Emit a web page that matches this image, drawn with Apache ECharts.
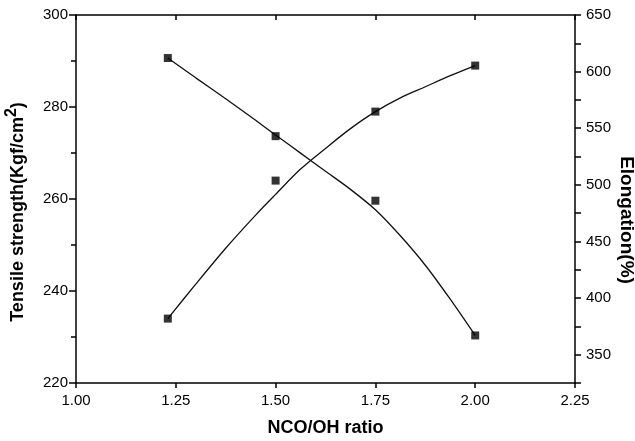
<!DOCTYPE html>
<html>
<head>
<meta charset="utf-8">
<script src="https://cdn.jsdelivr.net/npm/echarts@6/dist/echarts.min.js"></script>
<style>
html, body { margin: 0; padding: 0; background: #fff; }
#chart_01 { width: 635px; height: 441px; }
</style>
</head>
<body>
<div id="chart_01"></div>
<script>
// measured points
var ratios = [1.23, 1.5, 1.75, 2.0];
var tensile = [234, 264, 279, 289];
var elongation = [612, 543, 486, 367];

// fitted curves
var curveX = [1.23, 1.3, 1.375, 1.45, 1.5, 1.5625, 1.625, 1.6875, 1.75, 1.8125, 1.875, 1.9375, 2.0];
var tensileCurve = [234, 241.5, 249.3, 256.5, 261, 266.5, 271, 275.3, 279, 282, 284.4, 286.8, 289];
var elongCurve = [612, 594.5, 576, 557, 544, 528, 512, 496, 478, 455, 429, 399, 367];

var xTicks = ['1.00', '1.25', '1.50', '1.75', '2.00', '2.25'];

var chart1;
var font = 'Liberation Sans, Arial, sans-serif';

function pairs(xs, ys) {
    var out = [];
    for (var i = 0; i < xs.length; i++) {
        out.push([xs[i], ys[i]]);
    }
    return out;
}

function setChart1() {
    var dom = document.getElementById("chart_01");
    chart1 = echarts.init(dom);
    var axisLine = {
        show: true,
        lineStyle: { color: '#000', width: 1.5 }
    };
    var option = {
        animation: false,
        textStyle: { fontFamily: font },
        grid: {
            left: 76,
            right: 60,
            top: 15,
            bottom: 58,
            containLabel: false,
            outerBoundsMode: 'none'
        },
        xAxis: [
            {
                type: 'value',
                position: 'bottom',
                min: 1,
                max: 2.25,
                interval: 0.25,
                name: 'NCO/OH ratio',
                nameLocation: 'middle',
                nameGap: 36,
                nameMoveOverlap: false,
                nameTextStyle: { fontSize: 18, fontWeight: 'bold', color: '#000', fontFamily: font },
                axisLine: axisLine,
                axisTick: { show: true, inside: false, length: 5, lineStyle: { color: '#000', width: 1.5 } },
                axisLabel: {
                    margin: 10,
                    fontSize: 15,
                    color: '#000',
                    formatter: function (v) {
                        return xTicks[Math.round((v - 1) / 0.25)];
                    }
                },
                splitLine: { show: false }
            },
            {
                type: 'value',
                position: 'top',
                min: 1,
                max: 2.25,
                interval: 0.25,
                axisLine: axisLine,
                axisTick: { show: true, inside: true, length: 5, lineStyle: { color: '#000', width: 1.5 } },
                axisLabel: { show: false },
                splitLine: { show: false }
            }
        ],
        yAxis: [
            {
                type: 'value',
                position: 'left',
                min: 220,
                max: 300,
                interval: 20,
                name: 'Tensile strength(Kgf/cm{sup|2})',
                nameLocation: 'middle',
                nameRotate: 90,
                nameGap: 44,
                nameMoveOverlap: false,
                nameTextStyle: {
                    fontSize: 18,
                    fontWeight: 'bold',
                    color: '#000',
                    fontFamily: font,
                    padding: [0, 26, 0, 0],
                    rich: {
                        sup: { fontSize: 16, fontWeight: 'bold', color: '#000', fontFamily: font, padding: [0, 0, 12, 0] }
                    }
                },
                axisLine: axisLine,
                axisTick: { show: true, inside: false, length: 7, lineStyle: { color: '#000', width: 1.5 } },
                minorTick: { show: true, splitNumber: 2, length: 5, lineStyle: { color: '#000', width: 1.5 } },
                axisLabel: { margin: 8, fontSize: 15, color: '#000' },
                splitLine: { show: false }
            },
            {
                type: 'value',
                position: 'right',
                min: 325,
                max: 650,
                interval: 25,
                name: 'Elongation(%)',
                nameLocation: 'middle',
                nameRotate: -90,
                nameGap: 42,
                nameMoveOverlap: false,
                nameTextStyle: {
                    fontSize: 19,
                    fontWeight: 'bold',
                    color: '#000',
                    fontFamily: font,
                    padding: [0, 0, 0, 42]
                },
                axisLine: axisLine,
                axisTick: { show: true, inside: false, length: 6, lineStyle: { color: '#000', width: 1.5 } },
                axisLabel: {
                    margin: 11,
                    fontSize: 15,
                    color: '#000',
                    formatter: function (v) {
                        return v % 50 === 0 ? String(v) : '';
                    }
                },
                splitLine: { show: false }
            }
        ],
        series: [
            {
                name: 'tensile fit',
                type: 'line',
                yAxisIndex: 0,
                data: pairs(curveX, tensileCurve),
                smooth: 0.3,
                showSymbol: false,
                symbol: 'none',
                lineStyle: { color: '#111', width: 1.3 }
            },
            {
                name: 'elongation fit',
                type: 'line',
                yAxisIndex: 1,
                data: pairs(curveX, elongCurve),
                smooth: 0.3,
                showSymbol: false,
                symbol: 'none',
                lineStyle: { color: '#111', width: 1.3 }
            },
            {
                name: 'Tensile strength',
                type: 'scatter',
                yAxisIndex: 0,
                data: pairs(ratios, tensile),
                symbol: 'rect',
                symbolSize: 8,
                itemStyle: { color: '#000' },
                z: 5
            },
            {
                name: 'Elongation',
                type: 'scatter',
                yAxisIndex: 1,
                data: pairs(ratios, elongation),
                symbol: 'rect',
                symbolSize: 8,
                itemStyle: { color: '#000' },
                z: 5
            }
        ]
    };
    chart1.setOption(option, true);
}

window.onresize = function () {
    chart1 && chart1.resize();
};
setChart1();
</script>
</body>
</html>
